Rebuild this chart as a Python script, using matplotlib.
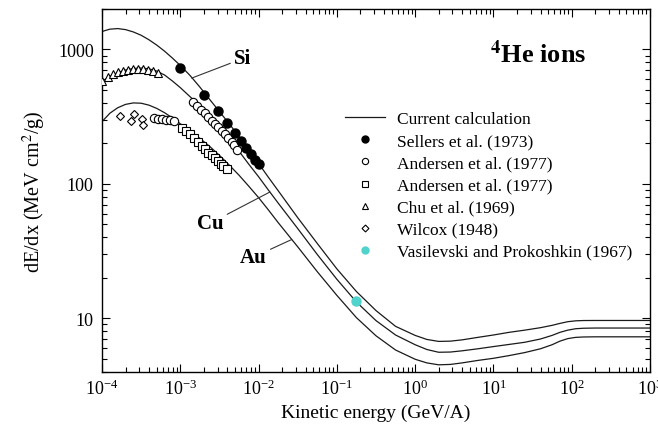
import numpy as np
import matplotlib
matplotlib.use('Agg')
import matplotlib.pyplot as plt
from matplotlib.legend_handler import HandlerLine2D
from matplotlib.lines import Line2D
from matplotlib.ticker import FuncFormatter

plt.rcParams['font.family'] = 'serif'
plt.rcParams['font.serif'] = ['Liberation Serif', 'DejaVu Serif']
plt.rcParams['mathtext.fontset'] = 'stix'

# calculated dE/dx curves (log10 of kinetic energy in GeV/A)
calc_logE = [-4.0, -3.9, -3.8, -3.7, -3.6, -3.5, -3.4, -3.3, -3.2, -3.1,
             -3.0, -2.875, -2.75, -2.625, -2.5, -2.375, -2.25, -2.125, -2.0, -1.875,
             -1.75, -1.5, -1.25, -1.0, -0.75, -0.5, -0.25, 0.0, 0.15, 0.3,
             0.45, 0.6, 0.8, 1.0, 1.2, 1.4, 1.6, 1.75, 1.85, 1.95,
             2.05, 2.15, 2.3, 3.0]
si_calc = [1360, 1415, 1430, 1405, 1350, 1275, 1180, 1077, 970, 862,
           760, 640, 525, 425, 345, 280, 225, 178, 142, 112,
           89, 56, 36, 23.3, 15.8, 11.4, 8.7, 7.45, 6.95, 6.72,
           6.75, 6.9, 7.2, 7.5, 7.85, 8.15, 8.5, 8.85, 9.15, 9.42,
           9.56, 9.61, 9.62, 9.62]
cu_calc = [578, 630, 672, 703, 722, 727, 718, 690, 645, 582,
           520, 445, 380, 318, 262, 215, 175, 140, 113, 90,
           72, 46.5, 29.8, 19.5, 13.2, 9.6, 7.5, 6.35, 5.85, 5.58,
           5.6, 5.72, 5.92, 6.15, 6.38, 6.62, 7.0, 7.45, 7.85, 8.15,
           8.35, 8.42, 8.45, 8.45]
au_calc = [290, 335, 368, 390, 400, 398, 385, 364, 338, 309,
           280, 248, 218, 190, 163, 138, 116, 96, 79, 64,
           51.5, 34, 22.2, 14.8, 10.1, 7.4, 5.8, 4.95, 4.65, 4.5,
           4.53, 4.65, 4.85, 5.03, 5.27, 5.55, 5.92, 6.35, 6.75, 7.05,
           7.2, 7.25, 7.27, 7.27]

# measurements
sellers_E = [1e-3, 2e-3, 3e-3, 4e-3, 5e-3, 6e-3, 7e-3, 8e-3, 9e-3, 1e-2]
sellers_dedx = [731, 462, 348, 282, 240, 208, 184, 166, 150, 140]

andersen_c_logE = [-2.842, -2.791, -2.740, -2.688, -2.642, -2.599, -2.557,
                   -2.515, -2.471, -2.429, -2.387, -2.344, -2.311, -2.280,
                   -3.336, -3.285, -3.234, -3.183, -3.132, -3.080]
andersen_c_dedx = [408, 381, 353, 334, 316, 295, 278,
                   263, 247, 233, 218, 206, 194, 180,
                   307, 304, 302, 299, 297, 292]

andersen_s_logE = [-2.982, -2.927, -2.876, -2.825, -2.770, -2.726, -2.684,
                   -2.642, -2.599, -2.557, -2.515, -2.480, -2.451, -2.408]
andersen_s_dedx = [262, 247, 233, 218, 206, 192, 181,
                   171, 163, 155, 148, 141, 136, 130]

chu_logE = [-3.995, -3.923, -3.860, -3.796, -3.732, -3.668, -3.604,
            -3.540, -3.476, -3.413, -3.349, -3.285]
chu_dedx = [580, 620, 652, 675, 686, 698, 710, 710, 710, 698, 686, 664]

wilcox_logE = [-3.764, -3.630, -3.585, -3.489, -3.470]
wilcox_dedx = [320, 292, 331, 302, 272]

vasil_E = [0.175]
vasil_dedx = [13.4]

curve_color = '#1a1a1a'
cyan = '#4fd3cc'


class MarkerAtEnd(HandlerLine2D):
    # legend symbol sits at the right end of the handle
    def get_xdata(self, legend, xdescent, ydescent, width, height, fontsize):
        return [-xdescent, -xdescent + width], [-xdescent + width]


fig = plt.figure(figsize=(6.58, 4.27), dpi=100)
ax = fig.add_axes([0.155, 0.1272, 0.8328, 0.8494])

E = 10 ** np.array(calc_logE)
for vals in (si_calc, cu_calc, au_calc):
    ax.plot(E, vals, color=curve_color, lw=0.9, zorder=2)

open_kw = dict(ls='none', mfc='white', mec='black', mew=0.8, zorder=3)
ax.plot(10 ** np.array(chu_logE), chu_dedx, marker='^', ms=6, **open_kw)
ax.plot(10 ** np.array(wilcox_logE), wilcox_dedx, marker='D', ms=4.5, **open_kw)
ax.plot(10 ** np.array(andersen_s_logE), andersen_s_dedx, marker='s', ms=5.5, **open_kw)
ax.plot(10 ** np.array(andersen_c_logE), andersen_c_dedx, marker='o', ms=6, **open_kw)
ax.plot(sellers_E, sellers_dedx, ls='none', marker='o', ms=6.5, color='black', zorder=4)
ax.plot(vasil_E, vasil_dedx, ls='none', marker='o', ms=6.5, color=cyan, zorder=4)

ax.set_xscale('log')
ax.set_yscale('log')
ax.set_xlim(1e-4, 1e3)
ax.set_ylim(4, 2000)
ax.yaxis.set_major_formatter(FuncFormatter(lambda v, p: f'{v:g}'))

ax.tick_params(which='both', direction='in', top=True, right=True, width=0.8,
               labelsize=13)
ax.tick_params(which='major', length=6)
ax.tick_params(which='minor', length=3.5)
ax.tick_params(axis='y', pad=6)
ax.tick_params(axis='x', pad=5)
for s in ax.spines.values():
    s.set_linewidth(1.0)

ax.set_xlabel('Kinetic energy (GeV/A)', fontsize=14, labelpad=4)
ax.set_ylabel('dE/dx (MeV cm$^2$/g)', fontsize=14.5, labelpad=7)

line_kw = dict(arrowstyle='-', lw=0.8, color='#333333', shrinkA=1, shrinkB=0)
ax.annotate('Si', xy=(10 ** -2.854, 612), xytext=(6.33e-3, 857),
            ha='center', va='center', fontsize=15, fontweight='bold',
            arrowprops=line_kw)
ax.annotate('Cu', xy=(10 ** -1.854, 87), xytext=(2.39e-3, 50.8),
            ha='center', va='center', fontsize=15, fontweight='bold',
            arrowprops=line_kw)
ax.annotate('Au', xy=(10 ** -1.577, 38.5), xytext=(8.5e-3, 28.4),
            ha='center', va='center', fontsize=15, fontweight='bold',
            arrowprops=line_kw)

ax.text(0.708, 0.854, r'$^{\mathbf{4}}$He ions', transform=ax.transAxes,
        fontsize=19, fontweight='bold', ha='left', va='baseline')

handles = [
    Line2D([], [], color=curve_color, lw=0.9),
    Line2D([], [], ls='none', marker='o', ms=5, color='black'),
    Line2D([], [], ls='none', marker='o', ms=4.5, mfc='white', mec='black', mew=0.8),
    Line2D([], [], ls='none', marker='s', ms=4.5, mfc='white', mec='black', mew=0.8),
    Line2D([], [], ls='none', marker='^', ms=4.5, mfc='white', mec='black', mew=0.8),
    Line2D([], [], ls='none', marker='D', ms=3.5, mfc='white', mec='black', mew=0.8),
    Line2D([], [], ls='none', marker='o', ms=5, color=cyan),
]
labels = ['Current calculation', 'Sellers et al. (1973)', 'Andersen et al. (1977)',
          'Andersen et al. (1977)', 'Chu et al. (1969)', 'Wilcox (1948)',
          'Vasilevski and Prokoshkin (1967)']
hmap = {h: MarkerAtEnd() for h in handles[1:]}
ax.legend(handles, labels, handler_map=hmap, loc='upper left',
          bbox_to_anchor=(0.4434, 0.718), frameon=False, fontsize=12.5,
          handlelength=2.3, handletextpad=0.7, labelspacing=0.34,
          borderpad=0, borderaxespad=0)

fig.savefig('out.png', dpi=100)
